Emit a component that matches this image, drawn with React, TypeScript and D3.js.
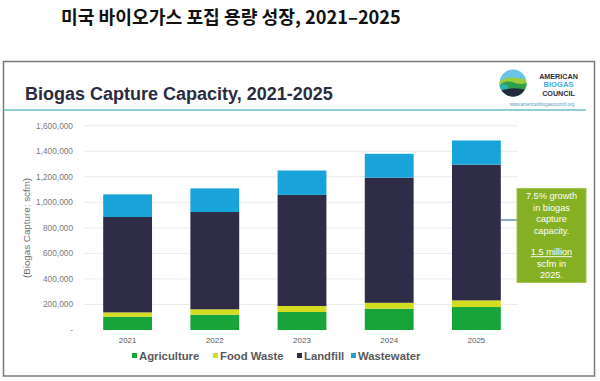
import React from "react";
import * as d3 from "d3";

const years = ["2021", "2022", "2023", "2024", "2025"];
const seriesNames = ["Agriculture", "Food Waste", "Landfill", "Wastewater"];
const agriculture = [104000, 120000, 141000, 167000, 180000];
const foodWaste = [34000, 42000, 47000, 46000, 52000];
const landfill = [747000, 762000, 870000, 980000, 1063000];
const wastewater = [177000, 185000, 191000, 187000, 189000];
const seriesColors = ["#17a43b", "#d3dc1e", "#2e2c47", "#18a4d8"];
const yTicks = [0, 200000, 400000, 600000, 800000, 1000000, 1200000, 1400000, 1600000];
const calloutLines = ["7.5% growth", "in biogas", "capture", "capacity.", "", "1.5 million", "scfm in", "2025."];

export default function App() {
  const W = 600, H = 381;
  const x = d3.scaleBand<string>().domain(years).range([84, 520]).paddingInner(0.44).paddingOuter(0.22);
  const y = d3.scaleLinear().domain([0, 1600000]).range([330, 125.7]);
  const table = years.map((yr, i) => ({
    year: yr,
    Agriculture: agriculture[i],
    "Food Waste": foodWaste[i],
    Landfill: landfill[i],
    Wastewater: wastewater[i],
  }));
  const stacked = d3.stack<any>().keys(seriesNames)(table);
  const fmt = d3.format(",");
  const font = "'Liberation Sans', Arial, sans-serif";
  const lastX = (x(years[4]) as number) + x.bandwidth();
  const legendX = [132, 213, 297, 351];

  return (
    <svg width={W} height={H} style={{ position: "absolute", left: 0, top: 0, background: "#fff" }}>
      <rect x={0} y={0} width={W} height={H} fill="#fff" />
      <text x={61} y={24} fontFamily="'Noto Sans CJK KR', sans-serif" fontWeight={700} fontSize={18.2} fill="#111">
        미국 바이오가스 포집 용량 성장, 2021–2025
      </text>
      {/* slide frame */}
      <rect x={3.5} y={61.5} width={591} height={314.5} fill="#fff" stroke="#7a7a7a" strokeWidth={1.5} />
      <line x1={4} x2={586} y1={110} y2={110} stroke="#8fcfd3" strokeWidth={2} />
      <text x={25} y={99.5} fontFamily={font} fontWeight={700} fontSize={18} fill="#2b2c40">
        Biogas Capture Capacity, 2021-2025
      </text>
      {/* logo */}
      <defs>
        <clipPath id="logoClip">
          <circle cx={513} cy={83} r={13.5} />
        </clipPath>
      </defs>
      <g clipPath="url(#logoClip)">
        <rect x={499} y={69} width={28} height={28} fill="#6cc3e8" />
        <path d="M499,82 Q508,74 527,80 L527,97 L499,97 Z" fill="#9ccb3b" />
        <path d="M499,86 Q505,79 515,83 Q521,85 527,83 L527,97 L499,97 Z" fill="#2e9f4a" />
        <path d="M499,86 Q503,82 508,86 L508,97 L499,97 Z" fill="#2ab3b0" />
        <path d="M499,91 Q512,86 527,90 L527,97 L499,97 Z" fill="#232a3d" />
      </g>
      <text x={558.5} y={78.5} textAnchor="middle" fontFamily={font} fontWeight={700} fontSize={7.2} fill="#2b2c40">AMERICAN</text>
      <text x={558.5} y={87} textAnchor="middle" fontFamily={font} fontWeight={700} fontSize={7.6} fill="#3fa9dd">BIOGAS</text>
      <text x={558.5} y={95.5} textAnchor="middle" fontFamily={font} fontWeight={700} fontSize={7.2} fill="#2b2c40">COUNCIL</text>
      <text x={542} y={106} textAnchor="middle" fontFamily={font} fontSize={4.5} fill="#4a9ec0">www.americanbiogascouncil.org</text>

      {/* gridlines & y labels */}
      {yTicks.map((t) => (
        <g key={t}>
          {t > 0 && <line x1={84} x2={518} y1={y(t)} y2={y(t)} stroke="#ebebeb" strokeWidth={1} />}
          <text x={73} y={y(t)} dy="0.35em" textAnchor="end" fontFamily={font} fontSize={8.3} fill="#7a7a7a">
            {t === 0 ? "-" : fmt(t)}
          </text>
        </g>
      ))}
      <text
        transform={`translate(27,${228}) rotate(-90)`}
        textAnchor="middle"
        dy="0.35em"
        fontFamily={font}
        fontSize={9.8}
        fill="#707070"
      >
        (Biogas Capture: scfm)
      </text>

      {/* bars */}
      {stacked.map((s, si) => (
        <g key={s.key} fill={seriesColors[si]}>
          {s.map((d, i) => (
            <rect
              key={i}
              x={x(years[i])}
              width={x.bandwidth()}
              y={y(d[1])}
              height={y(d[0]) - y(d[1])}
            />
          ))}
        </g>
      ))}

      {/* x labels */}
      {years.map((yr) => (
        <text
          key={yr}
          x={(x(yr) as number) + x.bandwidth() / 2}
          y={340}
          dy="0.35em"
          textAnchor="middle"
          fontFamily={font}
          fontSize={8}
          fill="#5a5a5a"
        >
          {yr}
        </text>
      ))}

      {/* legend */}
      {seriesNames.map((n, i) => (
        <g key={n}>
          <rect x={legendX[i]} y={353} width={5} height={5} fill={seriesColors[i]} />
          <text x={legendX[i] + 7} y={355.7} dy="0.35em" fontFamily={font} fontWeight={700} fontSize={11.3} fill="#595959">
            {n}
          </text>
        </g>
      ))}

      {/* callout */}
      <line x1={lastX} x2={517} y1={220} y2={220} stroke="#6d8fa6" strokeWidth={1.5} />
      <rect x={517} y={188.5} width={69} height={94} fill="#86b023" stroke="#a6c44e" strokeWidth={1} />
      {calloutLines.map((l, i) => {
        const ys = [196, 207.5, 219, 230.5, 242, 252, 263.5, 275];
        return (
          <text
            key={i}
            x={551.5}
            y={ys[i]}
            dy="0.35em"
            textAnchor="middle"
            fontFamily={font}
            fontSize={9.2}
            fill="#fff"
            textDecoration={i === 5 ? "underline" : undefined}
          >
            {l}
          </text>
        );
      })}
    </svg>
  );
}
